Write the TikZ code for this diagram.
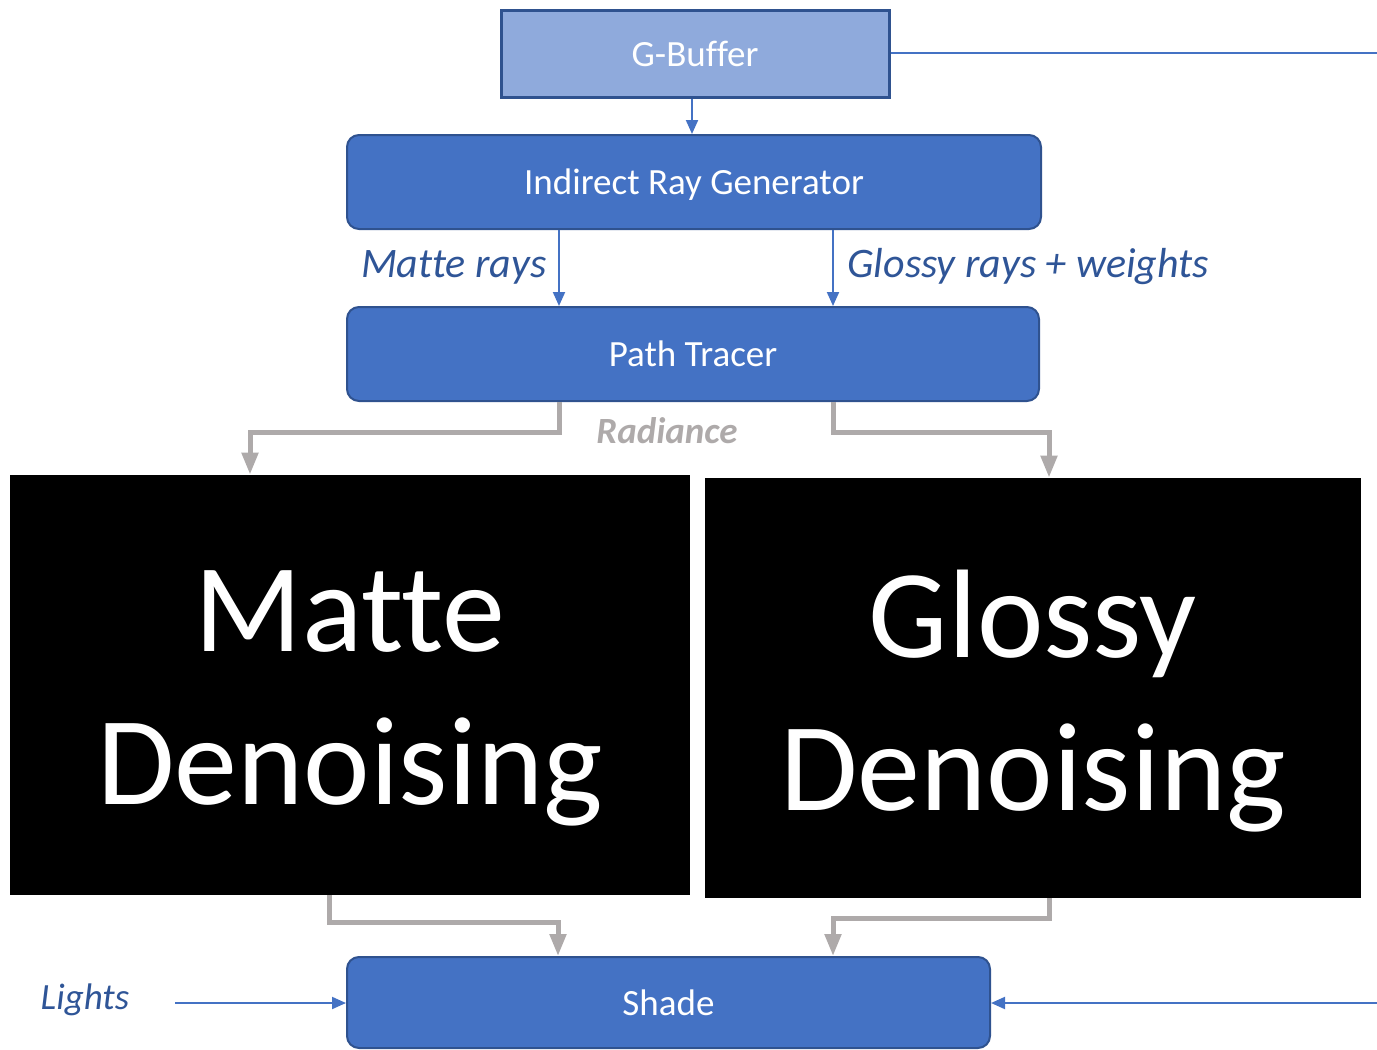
\documentclass[tikz,border=0pt]{standalone}
\usepackage{fontspec}
\setmainfont{Carlito}[Ligatures={NoCommon}]
\usetikzlibrary{arrows.meta}
\definecolor{boxblue}{HTML}{4472C4}
\definecolor{edgeblue}{HTML}{2F528F}
\definecolor{lightblue}{HTML}{8FAADC}
\definecolor{labelblue}{HTML}{2F5597}
\definecolor{flowgray}{HTML}{AEAAAA}
\begin{document}
\begin{tikzpicture}[x=0.5pt,y=-0.5pt,
  bluebox/.style={draw=edgeblue,line width=1pt,fill=boxblue,rounded corners=6pt,text=white,font=\fontsize{18.5}{22}\selectfont,inner sep=0pt,text depth=0pt},
  gbufbox/.style={draw=edgeblue,line width=1.5pt,fill=lightblue,text=white,font=\fontsize{18.5}{22}\selectfont,inner sep=0pt},
  blackbox/.style={fill=black,inner sep=0pt},
  bigtext/.style={text=white,align=center,font=\fontsize{63}{76.5}\selectfont,inner sep=0pt},
  bluearrow/.style={draw=boxblue,line width=1pt,-{Triangle[width=6pt,length=7pt]}},
  blueline/.style={draw=boxblue,line width=1pt},
  grayarrow/.style={draw=flowgray,line width=2.5pt,-{Triangle[width=8pt,length=11pt]}},
  edgelabel/.style={text=labelblue,font=\fontsize{21}{25}\selectfont\itshape,inner sep=0pt}
]
\useasboundingbox (0,0) rectangle (1377,1050);

\node[gbufbox,minimum width=194pt,minimum height=43.5pt] (gb) at (695,53.5) {G-Buffer};
\node[bluebox,minimum width=347pt,minimum height=47pt] (irg) at (694,182) {Indirect Ray Generator};
\node[bluebox,minimum width=346pt,minimum height=47pt] (pt) at (693,354) {Path Tracer};
\node[blackbox,minimum width=340pt,minimum height=210pt] (mat) at (350,685) {};
\node[blackbox,minimum width=328pt,minimum height=210pt] (gl) at (1033,688) {};
\node[bigtext] (matt) at (350,698) {Matte\\Denoising};
\node[bigtext] (glt) at (1033,701) {Glossy\\Denoising};
\node[bluebox,minimum width=321.5pt,minimum height=45.5pt] (sh) at (668.5,1002.5) {Shade};

\coordinate (mx) at (559,0);
\coordinate (gx) at (833,0);
\draw[bluearrow] (gb.south -| 692,0) -- (irg.north -| 692,0);
\draw[bluearrow] (irg.south -| mx) -- (pt.north -| mx);
\draw[bluearrow] (irg.south -| gx) -- (pt.north -| gx);

\node[edgelabel,anchor=east] (ml) at (547,267) {Matte rays};
\node[edgelabel,anchor=west] (gl2) at (847,267) {Glossy rays + weights};

\coordinate (k1) at (559,432);
\coordinate (k2) at (250,432);
\coordinate (k3) at (833,432);
\coordinate (k4) at (1049,432);
\draw[grayarrow] (pt.south -| k1) -- (k1) -- (k2) -- (mat.north -| k2);
\draw[grayarrow] (pt.south -| k3) -- (k3) -- (k4) -- (gl.north -| k4);
\node[text=flowgray,font=\fontsize{18.5}{22}\selectfont\bfseries\itshape,inner sep=0pt] (rad) at (667,431) {Radiance};

\coordinate (b1) at (329,922);
\coordinate (b2) at (558,922);
\coordinate (b3) at (1049,918);
\coordinate (b4) at (833,918);
\draw[grayarrow] (mat.south -| b1) -- (b1) -- (b2) -- (sh.north -| b2);
\draw[grayarrow] (gl.south -| b3) -- (b3) -- (b4) -- (sh.north -| b4);

\node[edgelabel,font=\fontsize{18.5}{22}\selectfont\itshape] (lights) at (85,1000) {Lights};
\coordinate (ls) at (175,1003);
\draw[bluearrow] (ls) -- (sh.west |- ls);
\coordinate (re1) at (1377,53);
\draw[blueline] (gb.east |- re1) -- (re1);
\coordinate (re2) at (1377,1003);
\draw[bluearrow] (re2) -- (sh.east |- re2);
\end{tikzpicture}
\end{document}
